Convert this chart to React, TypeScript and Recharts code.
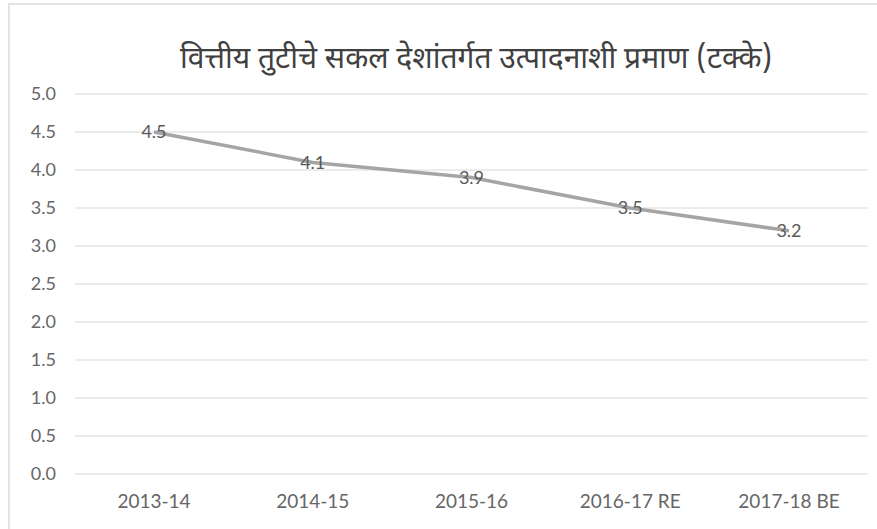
import { CartesianGrid, LabelList, Line, LineChart, XAxis, YAxis } from "recharts";

const years = ["2013-14", "2014-15", "2015-16", "2016-17 RE", "2017-18 BE"];
const deficitPct = [4.5, 4.1, 3.9, 3.5, 3.2];
const yTicks = [0, 0.5, 1, 1.5, 2, 2.5, 3, 3.5, 4, 4.5, 5];

const title = "वित्तीय तुटीचे सकल देशांतर्गत उत्पादनाशी प्रमाण (टक्के)";

const chartData = years.map((name, i) => ({ name, value: deficitPct[i] }));

const font = "Lato, sans-serif";

export default function App() {
  return (
    <div
      style={{
        position: "fixed",
        left: 8,
        top: 3,
        width: 880,
        height: 540,
        border: "2px solid #e4e4e4",
        background: "#fff",
        fontFamily: font,
      }}
    >
      <div
        style={{
          position: "absolute",
          left: 0,
          width: 932,
          top: 36,
          textAlign: "center",
          fontSize: 30,
          color: "#404040",
          fontFamily: "'Noto Sans Devanagari', 'Noto Sans', sans-serif",
        }}
      >
        {title}
      </div>
      <LineChart
        width={880}
        height={540}
        data={chartData}
        margin={{ top: 89, right: 22, left: 0, bottom: 31 }}
      >
        <CartesianGrid vertical={false} stroke="#d9d9d9" />
        <XAxis
          dataKey="name"
          axisLine={false}
          tickLine={false}
          tickMargin={15}
          height={40}
          padding={{ left: 79, right: 79 }}
          tick={{ fill: "#666666", fontSize: 19, fontFamily: font }}
        />
        <YAxis
          domain={[0, 5]}
          ticks={yTicks}
          width={65}
          axisLine={false}
          tickLine={false}
          tickMargin={13}
          tickFormatter={(v: number) => v.toFixed(1)}
          tick={{ fill: "#666666", fontSize: 18, fontFamily: font }}
        />
        <Line
          dataKey="value"
          stroke="#a5a5a5"
          strokeWidth={3.5}
          dot={false}
          isAnimationActive={false}
        >
          <LabelList
            dataKey="value"
            position="center"
            formatter={(v: number) => v.toFixed(1)}
            fill="#595959"
            fontSize={18}
            fontFamily={font}
          />
        </Line>
      </LineChart>
    </div>
  );
}
